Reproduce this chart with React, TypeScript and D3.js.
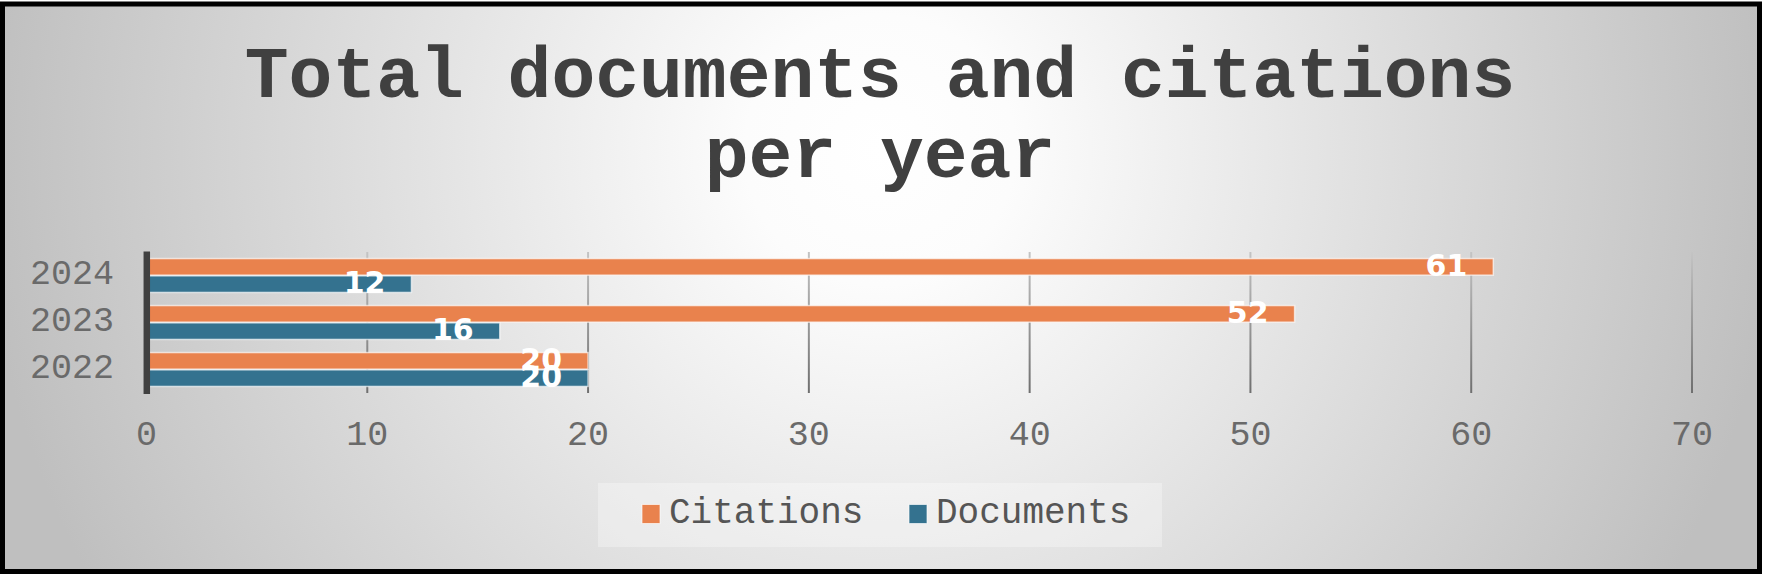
import React, { useEffect, useRef } from 'react';
import * as d3 from 'd3';

// data
const years = ['2024', '2023', '2022'];
const seriesNames = ['Citations', 'Documents'];
const citations = [61, 52, 20];
const documents = [12, 16, 20];
const xTicks = [0, 10, 20, 30, 40, 50, 60, 70];
const seriesColors = ['#e9824d', '#34728f'];
const titleLines = ['Total documents and citations', 'per year'];

function App() {
  const ref = useRef<SVGSVGElement | null>(null);

  useEffect(() => {
    drawChart();
  }, []);

  function drawChart() {
    const width = 1775;
    const height = 587;
    const plotTop = 252;
    const plotBottom = 393;
    const mono = '"Liberation Mono", "Courier New", monospace';

    const svg = d3.select(ref.current);
    svg.selectAll('*').remove();

    const defs = svg.append('defs');
    const bg = defs.append('radialGradient')
      .attr('id', 'bg')
      .attr('gradientUnits', 'userSpaceOnUse')
      .attr('cx', 880).attr('cy', 150).attr('r', 900);
    bg.append('stop').attr('offset', '0%').attr('stop-color', '#ffffff');
    bg.append('stop').attr('offset', '15%').attr('stop-color', '#fcfcfc');
    bg.append('stop').attr('offset', '100%').attr('stop-color', '#bfbfbf');

    const grid = defs.append('linearGradient')
      .attr('id', 'grid')
      .attr('gradientUnits', 'userSpaceOnUse')
      .attr('x1', 0).attr('y1', plotTop).attr('x2', 0).attr('y2', plotBottom);
    grid.append('stop').attr('offset', '0%').attr('stop-color', '#c4c4c4');
    grid.append('stop').attr('offset', '100%').attr('stop-color', '#6f6f6f');

    // page + frame
    svg.append('rect').attr('width', width).attr('height', height).attr('fill', '#ffffff');
    svg.append('rect')
      .attr('x', 2.5).attr('y', 4)
      .attr('width', 1757).attr('height', 567.5)
      .attr('fill', 'url(#bg)')
      .attr('stroke', '#000000')
      .attr('stroke-width', 5);

    // title
    svg.append('g')
      .selectAll('text')
      .data(titleLines)
      .enter()
      .append('text')
      .attr('x', 880)
      .attr('y', (d, i) => 97 + i * 80)
      .attr('text-anchor', 'middle')
      .style('font-family', mono)
      .style('font-weight', 'bold')
      .style('font-size', '73px')
      .attr('fill', '#404040')
      .text(d => d);

    // scales
    const xScale = d3.scaleLinear().domain([0, 70]).range([146.5, 1692]);
    const yScale = d3.scaleBand()
      .domain(years)
      .range([plotTop, plotBottom])
      .paddingInner(0.25)
      .paddingOuter(0.125);
    const subScale = d3.scaleBand()
      .domain(seriesNames)
      .range([0, yScale.bandwidth()])
      .padding(0.04);

    // gridlines
    svg.append('g')
      .selectAll('line')
      .data(xTicks.filter(t => t > 0))
      .enter()
      .append('line')
      .attr('x1', d => xScale(d)).attr('x2', d => xScale(d))
      .attr('y1', plotTop).attr('y2', plotBottom)
      .attr('stroke', 'url(#grid)')
      .attr('stroke-width', 2);

    // bars
    const rows = years.map((y, i) => ({ year: y, values: [citations[i], documents[i]] }));
    const groups = svg.append('g')
      .selectAll('g')
      .data(rows)
      .enter()
      .append('g')
      .attr('transform', d => `translate(0, ${yScale(d.year)})`);

    groups.selectAll('rect')
      .data(d => d.values.map((v, j) => ({ name: seriesNames[j], value: v, color: seriesColors[j] })))
      .enter()
      .append('rect')
      .attr('x', xScale(0))
      .attr('y', d => subScale(d.name) as number)
      .attr('width', d => xScale(d.value) - xScale(0))
      .attr('height', subScale.bandwidth())
      .attr('fill', d => d.color)
      .attr('stroke', 'rgba(255,255,255,0.65)')
      .attr('stroke-width', 1.5);

    groups.selectAll('text')
      .data(d => d.values.map((v, j) => ({ name: seriesNames[j], value: v })))
      .enter()
      .append('text')
      .attr('x', d => xScale(d.value) - 26)
      .attr('y', d => (subScale(d.name) as number) + subScale.bandwidth() / 2 + 9)
      .attr('text-anchor', 'end')
      .style('font-family', '"DejaVu Sans", sans-serif')
      .style('font-weight', 'bold')
      .style('font-size', '30px')
      .attr('fill', '#ffffff')
      .text(d => d.value);

    // category axis line
    svg.append('line')
      .attr('x1', xScale(0) + 0.3).attr('x2', xScale(0) + 0.3)
      .attr('y1', plotTop - 0.5).attr('y2', plotBottom + 1)
      .attr('stroke', '#404040')
      .attr('stroke-width', 6.5);

    // year labels
    svg.append('g')
      .selectAll('text')
      .data(years)
      .enter()
      .append('text')
      .attr('x', 114)
      .attr('y', d => (yScale(d) as number) + yScale.bandwidth() / 2 + 8.5)
      .attr('text-anchor', 'end')
      .style('font-family', mono)
      .style('font-size', '35px')
      .attr('fill', '#6a6a6a')
      .text(d => d);

    // value axis labels
    svg.append('g')
      .selectAll('text')
      .data(xTicks)
      .enter()
      .append('text')
      .attr('x', d => xScale(d))
      .attr('y', 445)
      .attr('text-anchor', 'middle')
      .style('font-family', mono)
      .style('font-size', '35px')
      .attr('fill', '#6a6a6a')
      .text(d => d);

    // legend
    const legend = svg.append('g');
    legend.append('rect')
      .attr('x', 598).attr('y', 483)
      .attr('width', 564).attr('height', 64)
      .attr('fill', '#ffffff')
      .attr('fill-opacity', 0.3);

    const legendX = [642, 909];
    const items = legend.selectAll('g.item')
      .data(seriesNames)
      .enter()
      .append('g')
      .attr('class', 'item')
      .attr('transform', (d, i) => `translate(${legendX[i]}, 0)`);
    items.append('rect')
      .attr('x', 0).attr('y', 504.5)
      .attr('width', 18).attr('height', 19)
      .attr('fill', (d, i) => seriesColors[i])
      .attr('stroke', 'rgba(255,255,255,0.65)')
      .attr('stroke-width', 1);
    items.append('text')
      .attr('x', 27)
      .attr('y', 523)
      .style('font-family', mono)
      .style('font-size', '36px')
      .attr('fill', '#555555')
      .text(d => d);
  }

  return (
    <svg
      ref={ref}
      width={1775}
      height={587}
      style={{ position: 'absolute', left: 0, top: 0, display: 'block' }}
    />
  );
}

export default App;
